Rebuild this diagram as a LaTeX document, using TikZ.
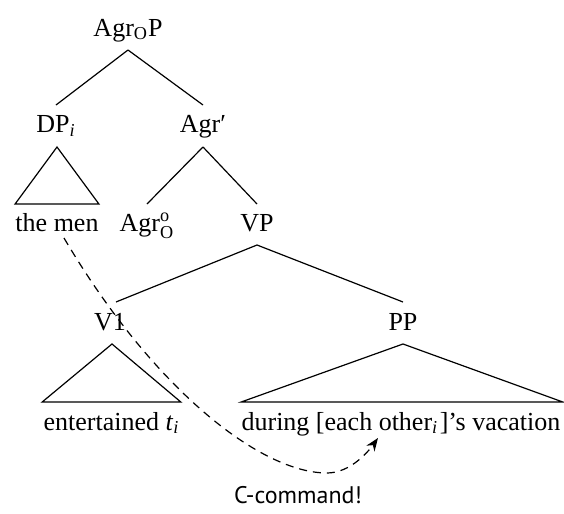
\documentclass[tikz,border=0pt]{standalone}
\usepackage{fontspec}
\setmainfont{Liberation Serif}
\newfontfamily\notefont{PT Sans}
\usetikzlibrary{calc,arrows.meta}
\begin{document}
\begin{tikzpicture}[x=0.5pt,y=-0.5pt,
    lbl/.style={anchor=base, inner sep=0pt, font=\fontsize{13}{15}\selectfont},
    branch/.style={line width=0.6pt},
    ccmd/.style={dash pattern=on 4pt off 3pt, line width=0.6pt, -{Stealth[length=6.5pt,width=5pt]}}]
  \useasboundingbox (0,0) rectangle (564,514);

  % labels (placed on their baselines)
  \node[lbl] (agrop)  at (128,36)  {Agr\textsubscript{O}P};
  \node[lbl] (dp)     at (56,133)  {DP\textsubscript{\textit{i}}};
  \node[lbl] (agrbar) at (203,133) {Agr′};
  \node[lbl] (themen) at (57,232)  {the men};
  \node[lbl] (agro)   at (147,232) {$\mathrm{Agr}^{\mathrm{o}}_{\mathrm{O}}$};
  \node[lbl] (vp)     at (257,232) {VP};
  \node[lbl] (vone)   at (110,330) {V1};
  \node[lbl] (pp)     at (403,330) {PP};
  \node[lbl] (ent)    at (111.5,430) {entertained \textit{t}\textsubscript{\textit{i}}};
  \node[lbl] (during) at (401,430) {during [each other\textsubscript{\textit{i}}\kern0.8pt]’s vacation};
  \node[anchor=base, inner sep=0pt, font=\notefont\fontsize{12}{14}\selectfont] (note) at (298,503) {C-command!};

  % branches
  \draw[branch] ($(agrop.base)+(0,-7pt)$) -- ($(dp.base)+(0,14pt)$);
  \draw[branch] ($(agrop.base)+(0,-7pt)$) -- ($(agrbar.base)+(0,14pt)$);
  \draw[branch] ($(agrbar.base)+(0,-7pt)$) -- ($(agro.base)+(0,14pt)$);
  \draw[branch] ($(agrbar.base)+(0,-7pt)$) -- ($(vp.base)+(0,14pt)$);
  \draw[branch] ($(vp.base)+(0,-6.5pt)$) -- ($(vone.base)+(3pt,14pt)$);
  \draw[branch] ($(vp.base)+(0,-6.5pt)$) -- ($(pp.base)+(0,14pt)$);

  % triangles over unanalysed constituents
  \draw[branch] ($(dp.base)+(0.5pt,-7pt)$) -- ($(themen.base west)+(0,14pt)$)
                -- ($(themen.base east)+(0,14pt)$) -- cycle;
  \draw[branch] ($(vone.base)+(1pt,-7pt)$) -- ($(ent.base west)+(-0.5pt,14pt)$)
                -- ($(ent.base east)+(0.5pt,14pt)$) -- cycle;
  \draw[branch] ($(pp.base)+(0,-7pt)$) -- ($(during.base west)+(0,14pt)$)
                -- ($(during.base east)+(1pt,14pt)$) -- cycle;

  % c-command arrow
  \coordinate (cfrom) at (64,238);
  \coordinate (cto)   at (378,438);
  \draw[ccmd] (cfrom) .. controls (155,392) and (262,473) .. (327,473)
              .. controls (350,473) and (368,452) .. (cto);
\end{tikzpicture}
\end{document}
